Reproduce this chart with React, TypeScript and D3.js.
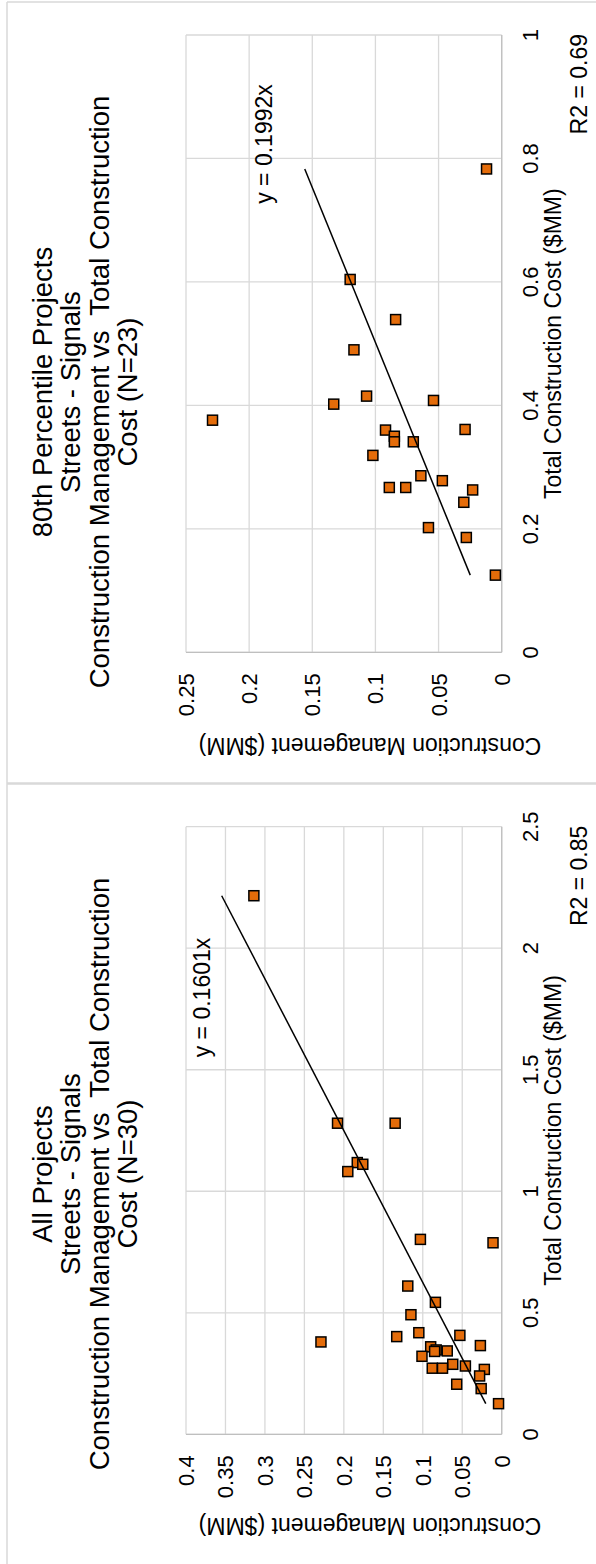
import React from 'react';
import * as d3 from 'd3';

// ---- Data: All Projects (N=30) ----
const allX = [2.216, 1.28, 1.28, 1.118, 1.111, 1.081, 0.802, 0.788, 0.61, 0.543, 0.492, 0.38, 0.402, 0.418, 0.407, 0.365, 0.36, 0.347, 0.341, 0.343, 0.321, 0.288, 0.281, 0.272, 0.272, 0.267, 0.24, 0.206, 0.188, 0.126];
const allY = [0.314, 0.208, 0.135, 0.183, 0.176, 0.195, 0.103, 0.011, 0.119, 0.084, 0.115, 0.229, 0.133, 0.105, 0.053, 0.027, 0.09, 0.083, 0.085, 0.069, 0.101, 0.062, 0.046, 0.088, 0.075, 0.022, 0.028, 0.057, 0.026, 0.004];
const allSlope = 0.1601;
const allXTicks = [0, 0.5, 1, 1.5, 2, 2.5];
const allYTicks = [0, 0.05, 0.1, 0.15, 0.2, 0.25, 0.3, 0.35, 0.4];
const allTitle = ['All Projects', 'Streets - Signals', 'Construction Management vs  Total Construction', 'Cost (N=30)'];
const allEq = 'y = 0.1601x';
const allR2 = 'R2 = 0.85';

// ---- Data: 80th Percentile Projects (N=23) ----
const p80X = [0.783, 0.604, 0.539, 0.49, 0.415, 0.402, 0.408, 0.376, 0.361, 0.36, 0.35, 0.341, 0.341, 0.319, 0.286, 0.278, 0.267, 0.267, 0.263, 0.243, 0.202, 0.186, 0.125];
const p80Y = [0.012, 0.12, 0.084, 0.117, 0.107, 0.133, 0.054, 0.229, 0.029, 0.092, 0.085, 0.085, 0.07, 0.102, 0.064, 0.047, 0.089, 0.076, 0.023, 0.03, 0.058, 0.028, 0.005];
const p80Slope = 0.1992;
const p80XTicks = [0, 0.2, 0.4, 0.6, 0.8, 1];
const p80YTicks = [0, 0.05, 0.1, 0.15, 0.2, 0.25];
const p80Title = ['80th Percentile Projects', 'Streets - Signals', 'Construction Management vs  Total Construction', 'Cost (N=23)'];
const p80Eq = 'y = 0.1992x';
const p80R2 = 'R2 = 0.69';

const xAxisTitle = 'Total Construction Cost ($MM)';
const yAxisTitle = 'Construction Management ($MM)';

const W = 1564; // unrotated width
const FONT = '"Liberation Sans", Arial, sans-serif';
const fmt = (v: number) => String(+v.toFixed(2));

type PanelProps = {
  xs: number[]; ys: number[]; slope: number;
  xTicks: number[]; yTicks: number[];
  title: string[]; eq: string; r2: string;
  chartX0: number; chartX1: number;
  plotX0: number; plotX1: number;
  eqPos: [number, number];
};

const PLOT_TOP = 186;
const PLOT_BOTTOM = 501.7;

function Panel(p: PanelProps) {
  const x = d3.scaleLinear().domain([p.xTicks[0], p.xTicks[p.xTicks.length - 1]]).range([p.plotX0, p.plotX1]);
  const y = d3.scaleLinear().domain([p.yTicks[0], p.yTicks[p.yTicks.length - 1]]).range([PLOT_BOTTOM, PLOT_TOP]);
  const [xmin, xmax] = d3.extent(p.xs) as [number, number];
  const line = d3.line<number>().x((v) => x(v)).y((v) => y(v * p.slope));
  const cx = (p.chartX0 + p.chartX1) / 2;
  const pcx = (p.plotX0 + p.plotX1) / 2;
  const ms = 10;
  return (
    <g fontFamily={FONT} fill="#000">
      {/* gridlines */}
      {p.xTicks.map((t) => (
        <line key={'gx' + t} x1={x(t)} x2={x(t)} y1={PLOT_TOP} y2={PLOT_BOTTOM} stroke="#d9d9d9" strokeWidth={1.3} />
      ))}
      {p.yTicks.map((t) => (
        <line key={'gy' + t} x1={p.plotX0} x2={p.plotX1} y1={y(t)} y2={y(t)} stroke="#d9d9d9" strokeWidth={1.3} />
      ))}
      <line x1={p.plotX0} x2={p.plotX1} y1={PLOT_BOTTOM} y2={PLOT_BOTTOM} stroke="#bfbfbf" strokeWidth={1.3} />
      <line x1={p.plotX0} x2={p.plotX0} y1={PLOT_TOP} y2={PLOT_BOTTOM} stroke="#bfbfbf" strokeWidth={1.3} />
      {/* markers */}
      {p.xs.map((v, i) => (
        <rect key={'m' + i} x={x(v) - ms / 2} y={y(p.ys[i]) - ms / 2} width={ms} height={ms}
          fill="#e46c0a" stroke="#000" strokeWidth={1.5} />
      ))}
      {/* trend line */}
      <path d={line([xmin, xmax]) || ''} stroke="#000" strokeWidth={1.5} fill="none" />
      {/* tick labels */}
      {p.xTicks.map((t) => (
        <text key={'tx' + t} x={x(t)} y={537.5} fontSize={22} textAnchor="middle">{fmt(t)}</text>
      ))}
      {p.yTicks.map((t) => (
        <text key={'ty' + t} x={p.plotX0 - 21} y={y(t) + 8} fontSize={22} textAnchor="end">{fmt(t)}</text>
      ))}
      {/* titles */}
      {p.title.map((s, i) => (
        <text key={'t' + i} x={cx} y={51.7 + i * 28.4} fontSize={27.5} textAnchor="middle" style={{ whiteSpace: 'pre' }}>{s}</text>
      ))}
      <text x={pcx} y={561} fontSize={23} textAnchor="middle">{xAxisTitle}</text>
      <text x={p.plotX1 + 1} y={587} fontSize={23} textAnchor="end">{p.r2}</text>
      <text transform={`translate(${p.chartX0 + 46},370) rotate(-90)`} fontSize={23} textAnchor="middle">{yAxisTitle}</text>
      <text x={p.eqPos[0]} y={p.eqPos[1]} fontSize={23} textAnchor="middle">{p.eq}</text>
    </g>
  );
}

export default function App() {
  return (
    <svg width={596} height={1564} style={{ position: 'absolute', left: 0, top: 0, background: '#fff' }}>
      <rect x={0} y={0} width={596} height={1564} fill="#fff" />
      <g transform={`translate(0,${W}) rotate(-90)`}>
        {/* frame */}
        <line x1={0} x2={1562} y1={7} y2={7} stroke="#d9d9d9" strokeWidth={1.5} />
        <line x1={1562} x2={1562} y1={7} y2={600} stroke="#d9d9d9" strokeWidth={1.5} />
        <line x1={780.5} x2={780.5} y1={7} y2={600} stroke="#d9d9d9" strokeWidth={2.5} />
        <Panel xs={allX} ys={allY} slope={allSlope} xTicks={allXTicks} yTicks={allYTicks}
          title={allTitle} eq={allEq} r2={allR2} chartX0={0} chartX1={780}
          plotX0={129.7} plotX1={737.3} eqPos={[566.5, 210]} />
        <Panel xs={p80X} ys={p80Y} slope={p80Slope} xTicks={p80XTicks} yTicks={p80YTicks}
          title={p80Title} eq={p80Eq} r2={p80R2} chartX0={780} chartX1={1564}
          plotX0={911.7} plotX1={1529} eqPos={[1420, 271.7]} />
      </g>
    </svg>
  );
}
